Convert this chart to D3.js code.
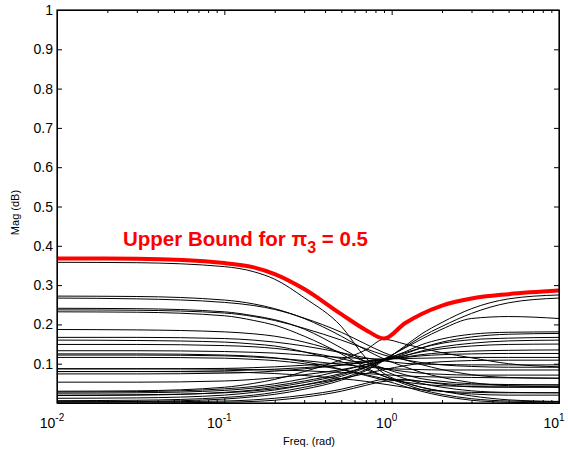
<!DOCTYPE html>
<html>
<head>
<meta charset="utf-8">
<script src="https://cdn.jsdelivr.net/npm/d3@7"></script>
<style>
  body { margin: 0; background: #fff; }
  text { font-family: Arial, "Liberation Sans", sans-serif; }
</style>
</head>
<body>
<div id="container"></div>
<script>
/* CONSTANTS AND GLOBALS */
const width = 568;
const height = 451;
const margin = { top: 10, bottom: 48, left: 57, right: 9 };

/* DATA */
// frequency grid (rad) that every curve is sampled on
const freqs = [0.01, 0.03, 0.1, 0.15, 0.2, 0.3, 0.5, 0.7, 0.9, 1.2, 1.5, 2, 3, 5, 10];

// upper bound curve (red)
const upperBound = [0.368, 0.367, 0.356, 0.345, 0.328, 0.290, 0.226, 0.186, 0.164, 0.203, 0.226, 0.248, 0.266, 0.277, 0.286];

// black responses, one array per curve
const falling = [
  [0.358, 0.357, 0.347, 0.334, 0.315, 0.268, 0.195, 0.115, 0.075, 0.052, 0.040, 0.030, 0.018, 0.008, 0.004],
  [0.272, 0.271, 0.262, 0.252, 0.240, 0.215, 0.170, 0.135, 0.112, 0.092, 0.078, 0.065, 0.052, 0.044, 0.041],
  [0.267, 0.265, 0.256, 0.248, 0.238, 0.216, 0.180, 0.150, 0.128, 0.110, 0.098, 0.085, 0.072, 0.065, 0.063],
  [0.241, 0.240, 0.232, 0.222, 0.212, 0.188, 0.140, 0.105, 0.082, 0.062, 0.050, 0.040, 0.031, 0.027, 0.026],
  [0.237, 0.236, 0.229, 0.220, 0.210, 0.190, 0.160, 0.138, 0.122, 0.110, 0.103, 0.097, 0.093, 0.091, 0.091],
  [0.232, 0.231, 0.222, 0.210, 0.198, 0.170, 0.125, 0.090, 0.068, 0.048, 0.034, 0.022, 0.011, 0.005, 0.003],
  [0.187, 0.186, 0.181, 0.176, 0.170, 0.155, 0.128, 0.105, 0.088, 0.072, 0.062, 0.055, 0.049, 0.047, 0.046],
  [0.167, 0.167, 0.164, 0.160, 0.155, 0.145, 0.128, 0.115, 0.107, 0.101, 0.099, 0.098, 0.097, 0.097, 0.097],
  [0.160, 0.159, 0.155, 0.150, 0.145, 0.130, 0.105, 0.085, 0.068, 0.052, 0.040, 0.030, 0.023, 0.020, 0.020],
  [0.149, 0.149, 0.146, 0.143, 0.139, 0.130, 0.113, 0.098, 0.088, 0.080, 0.076, 0.073, 0.071, 0.071, 0.071],
  [0.133, 0.133, 0.131, 0.129, 0.127, 0.122, 0.116, 0.113, 0.112, 0.113, 0.114, 0.115, 0.116, 0.116, 0.116],
  [0.125, 0.125, 0.122, 0.119, 0.115, 0.105, 0.086, 0.070, 0.058, 0.042, 0.030, 0.018, 0.007, 0.002, 0.000],
  [0.122, 0.122, 0.120, 0.117, 0.114, 0.108, 0.098, 0.092, 0.088, 0.086, 0.085, 0.084, 0.084, 0.084, 0.084],
  [0.116, 0.116, 0.114, 0.111, 0.108, 0.100, 0.085, 0.072, 0.062, 0.053, 0.048, 0.044, 0.042, 0.041, 0.041],
  [0.087, 0.087, 0.086, 0.085, 0.084, 0.082, 0.078, 0.075, 0.072, 0.069, 0.067, 0.066, 0.065, 0.064, 0.063],
  [0.080, 0.080, 0.079, 0.077, 0.075, 0.070, 0.062, 0.055, 0.048, 0.040, 0.034, 0.030, 0.027, 0.026, 0.026]
];

const rising = [
  [0.003, 0.004, 0.010, 0.016, 0.022, 0.035, 0.058, 0.082, 0.108, 0.145, 0.175, 0.205, 0.240, 0.265, 0.275],
  [0.006, 0.007, 0.014, 0.020, 0.027, 0.040, 0.062, 0.085, 0.110, 0.142, 0.168, 0.195, 0.228, 0.255, 0.267],
  [0.012, 0.013, 0.020, 0.027, 0.033, 0.046, 0.068, 0.090, 0.112, 0.140, 0.162, 0.188, 0.215, 0.220, 0.215],
  [0.019, 0.020, 0.027, 0.033, 0.040, 0.052, 0.072, 0.092, 0.110, 0.130, 0.148, 0.163, 0.175, 0.180, 0.181],
  [0.025, 0.026, 0.032, 0.038, 0.044, 0.056, 0.075, 0.092, 0.108, 0.125, 0.140, 0.155, 0.168, 0.175, 0.177],
  [0.028, 0.029, 0.036, 0.042, 0.049, 0.062, 0.082, 0.098, 0.112, 0.128, 0.140, 0.152, 0.161, 0.165, 0.167],
  [0.053, 0.053, 0.056, 0.060, 0.064, 0.072, 0.085, 0.097, 0.108, 0.120, 0.132, 0.143, 0.152, 0.158, 0.160],
  [0.074, 0.074, 0.076, 0.078, 0.081, 0.087, 0.096, 0.104, 0.112, 0.121, 0.130, 0.138, 0.145, 0.149, 0.150],
  [0.080, 0.080, 0.082, 0.084, 0.086, 0.090, 0.097, 0.104, 0.110, 0.117, 0.123, 0.128, 0.132, 0.134, 0.135],
  [0.087, 0.087, 0.088, 0.090, 0.092, 0.096, 0.102, 0.107, 0.111, 0.116, 0.120, 0.123, 0.125, 0.126, 0.126],
  [0.020, 0.021, 0.026, 0.031, 0.036, 0.046, 0.062, 0.075, 0.085, 0.095, 0.101, 0.105, 0.108, 0.109, 0.109],
  [0.030, 0.031, 0.040, 0.050, 0.060, 0.080, 0.110, 0.135, 0.162, 0.150, 0.140, 0.128, 0.115, 0.100, 0.092],
  [0.000, 0.000, 0.002, 0.004, 0.007, 0.015, 0.030, 0.045, 0.055, 0.058, 0.055, 0.050, 0.046, 0.046, 0.046],
  [0.003, 0.003, 0.005, 0.008, 0.012, 0.020, 0.035, 0.050, 0.060, 0.060, 0.055, 0.048, 0.041, 0.040, 0.040]
];

// ticks
const xMajor = [0.01, 0.1, 1, 10];
const xExponents = ["-2", "-1", "0", "1"];
const yTicks = [0.1, 0.2, 0.3, 0.4, 0.5, 0.6, 0.7, 0.8, 0.9, 1];

/* SCALES */
const xScale = d3.scaleLog()
  .domain([0.01, 10])
  .range([margin.left, width - margin.right]);

const yScale = d3.scaleLinear()
  .domain([0, 1])
  .range([height - margin.bottom, margin.top]);

const xMinor = [];
[0.01, 0.1, 1].forEach(d => { for (let k = 2; k <= 9; k++) xMinor.push(d * k) });

/* HTML ELEMENTS */
const svg = d3.select("#container")
  .append("svg")
  .attr("width", width)
  .attr("height", height);

const line = d3.line()
  .x((d, i) => xScale(freqs[i]))
  .y(d => yScale(d))
  .curve(d3.curveMonotoneX);

svg.append("clipPath").attr("id", "clip")
  .append("rect")
  .attr("x", margin.left)
  .attr("y", margin.top)
  .attr("width", width - margin.left - margin.right)
  .attr("height", height - margin.top - margin.bottom);

const plot = svg.append("g").attr("clip-path", "url(#clip)");

// black curves
plot.selectAll("path.resp")
  .data(falling.concat(rising))
  .join("path")
  .attr("class", "resp")
  .attr("d", line)
  .attr("fill", "none")
  .attr("stroke", "#000")
  .attr("stroke-width", 1);

// red upper bound
plot.append("path")
  .attr("d", line(upperBound))
  .attr("fill", "none")
  .attr("stroke", "#ff0000")
  .attr("stroke-width", 4)
  .attr("stroke-linejoin", "round");

// axes: ticks inside, on all four sides
const x0 = margin.left, x1 = width - margin.right;
const y0 = height - margin.bottom, y1 = margin.top;

const axisBottom = d3.axisBottom(xScale).tickValues(xMajor).tickSizeInner(-5).tickSizeOuter(0).tickFormat("");
const axisTop = d3.axisTop(xScale).tickValues(xMajor).tickSizeInner(-5).tickSizeOuter(0).tickFormat("");
const axisLeft = d3.axisLeft(yScale).tickValues(yTicks).tickSizeInner(-5).tickSizeOuter(0).tickFormat("");
const axisRight = d3.axisRight(yScale).tickValues(yTicks).tickSizeInner(-5).tickSizeOuter(0).tickFormat("");

svg.append("g").attr("transform", `translate(0,${y0})`).call(axisBottom);
svg.append("g").attr("transform", `translate(0,${y1})`).call(axisTop);
svg.append("g").attr("transform", `translate(${x0},0)`).call(axisLeft);
svg.append("g").attr("transform", `translate(${x1},0)`).call(axisRight);

// minor log ticks
svg.append("g").attr("transform", `translate(0,${y0})`)
  .call(d3.axisBottom(xScale).tickValues(xMinor).tickSizeInner(-3).tickSizeOuter(0).tickFormat(""));
svg.append("g").attr("transform", `translate(0,${y1})`)
  .call(d3.axisTop(xScale).tickValues(xMinor).tickSizeInner(-3).tickSizeOuter(0).tickFormat(""));

svg.selectAll(".domain").attr("stroke", "#000").attr("stroke-width", 1);
svg.selectAll(".tick line").attr("stroke", "#000");

// frame
svg.append("rect")
  .attr("x", x0).attr("y", y1)
  .attr("width", x1 - x0).attr("height", y0 - y1)
  .attr("fill", "none").attr("stroke", "#000").attr("stroke-width", 1.2);

// y tick labels
svg.append("g").selectAll("text")
  .data(yTicks)
  .join("text")
  .attr("x", x0 - 4)
  .attr("y", d => yScale(d))
  .attr("dy", "0.36em")
  .attr("text-anchor", "end")
  .attr("font-size", 14)
  .text(d => d === 1 ? "1" : d.toFixed(1));

// x tick labels 10^n
const xl = svg.append("g").selectAll("text")
  .data(xMajor)
  .join("text")
  .attr("x", d => xScale(d) - 5)
  .attr("y", y0 + 25)
  .attr("text-anchor", "middle")
  .attr("font-size", 14);
xl.append("tspan").text("10");
xl.append("tspan")
  .attr("dy", -7)
  .attr("font-size", 10)
  .text((d, i) => xExponents[i]);

// axis titles
svg.append("text")
  .attr("x", (x0 + x1) / 2 + 1)
  .attr("y", height - 6)
  .attr("text-anchor", "middle")
  .attr("font-size", 11)
  .text("Freq. (rad)");

svg.append("text")
  .attr("transform", `translate(19,${(y0 + y1) / 2 + 6}) rotate(-90)`)
  .attr("text-anchor", "middle")
  .attr("font-size", 11)
  .text("Mag (dB)");

// annotation
const ann = svg.append("text")
  .attr("x", xScale(0.0248))
  .attr("y", yScale(0.4))
  .attr("fill", "#ff0000")
  .attr("font-weight", "bold")
  .attr("font-size", 20.5);
ann.append("tspan").text("Upper Bound for ");
ann.append("tspan").text("π");
ann.append("tspan").attr("dy", 7).attr("font-size", 16).text("3");
ann.append("tspan").attr("dy", -7).text(" = 0.5");
</script>
</body>
</html>
